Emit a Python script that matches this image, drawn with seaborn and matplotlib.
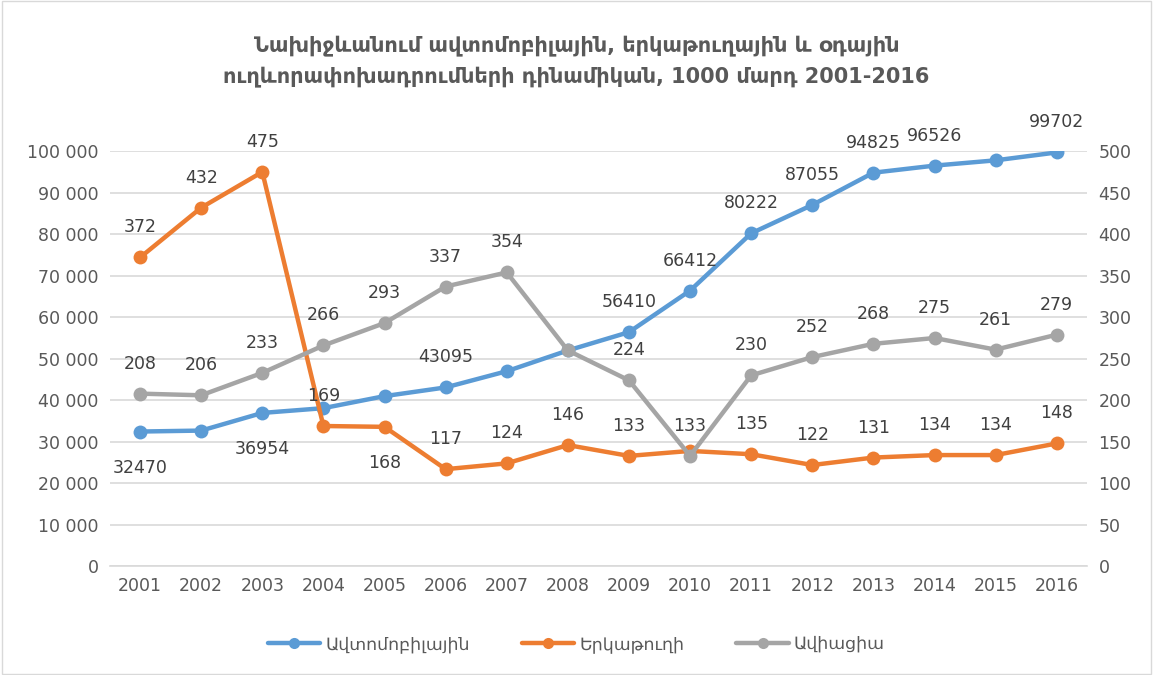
import numpy as np
import pandas as pd
import matplotlib
matplotlib.use("Agg")
import matplotlib.pyplot as plt
import seaborn as sns
from matplotlib.ticker import FuncFormatter, MultipleLocator

years = ["2001", "2002", "2003", "2004", "2005", "2006", "2007", "2008",
         "2009", "2010", "2011", "2012", "2013", "2014", "2015", "2016"]

# values (unlabelled points are estimates)
auto = [32470, 32700, 36954, 38100, 41000, 43095, 47000, 52000,
        56410, 66412, 80222, 87055, 94825, 96526, 97800, 99702]
rail = [372, 432, 475, 169, 168, 117, 124, 146, 133, 139, 135, 122, 131, 134, 134, 148]
air = [208, 206, 233, 266, 293, 337, 354, 260, 224, 133, 230, 252, 268, 275, 261, 279]

# data labels as shown (None = no label), and whether the label sits below
auto_lbl = [32470, None, 36954, None, None, 43095, None, None,
            56410, 66412, 80222, 87055, 94825, 96526, None, 99702]
auto_below = [True, False, True] + [False] * 13
rail_lbl = [372, 432, 475, 169, 168, 117, 124, 146, 133, None, 135, 122, 131, 134, 134, 148]
rail_below = [False] * 4 + [True] + [False] * 11
air_lbl = [208, 206, 233, 266, 293, 337, 354, None, 224, 133, 230, 252, 268, 275, 261, 279]

names = ["Ավտոմոբիլային", "Երկաթուղի", "Ավիացիա"]
colors = ["#5B9BD5", "#ED7D31", "#A5A5A5"]
title = ("Նախիջևանում ավտոմոբիլային, երկաթուղային և օդային\n"
         "ուղևորափոխադրումների դինամիկան, 1000 մարդ 2001-2016")

sns.set_theme(style="white")
plt.rcParams["font.family"] = ["DejaVu Sans"]

df = pd.DataFrame({"i": np.arange(len(years)), "auto": auto, "rail": rail, "air": air})

fig = plt.figure(figsize=(11.53, 6.75), dpi=100)
ax = fig.add_axes([0.095, 0.161, 0.848, 0.615])
ax2 = ax.twinx()

txt = "#595959"
lw, ms = 3.2, 10

sns.lineplot(data=df, x="i", y="auto", ax=ax, color=colors[0], linewidth=lw,
             marker="o", markersize=ms, markeredgewidth=0, label=names[0], legend=False)
sns.lineplot(data=df, x="i", y="rail", ax=ax2, color=colors[1], linewidth=lw,
             marker="o", markersize=ms, markeredgewidth=0, label=names[1], legend=False)
sns.lineplot(data=df, x="i", y="air", ax=ax2, color=colors[2], linewidth=lw,
             marker="o", markersize=ms, markeredgewidth=0, label=names[2], legend=False)

ax.set_ylim(0, 100000)
ax2.set_ylim(0, 500)
ax.set_xlim(-0.5, len(years) - 0.5)
ax.yaxis.set_major_locator(MultipleLocator(10000))
ax2.yaxis.set_major_locator(MultipleLocator(50))
ax.yaxis.set_major_formatter(FuncFormatter(lambda v, p: f"{int(v):,}".replace(",", " ")))
ax.set_xticks(range(len(years)))
ax.set_xticklabels(years)
ax.set_xlabel("")
ax.set_ylabel("")
ax2.set_ylabel("")

ax.grid(axis="y", color="#D9D9D9", linewidth=1.2)
ax.set_axisbelow(True)
for a in (ax, ax2):
    for s in a.spines.values():
        s.set_visible(False)
    a.tick_params(length=0, labelsize=12.5, labelcolor=txt, pad=8)
ax.spines["bottom"].set_visible(True)
ax.spines["bottom"].set_color("#D9D9D9")
ax.spines["bottom"].set_linewidth(1.2)


def put_labels(a, vals, lbls, below=None):
    for k, (v, l) in enumerate(zip(vals, lbls)):
        if l is None:
            continue
        dn = below[k] if below else False
        a.annotate(str(l), (k, v), xytext=(0, -36 if dn else 30),
                   textcoords="offset pixels", ha="center", va="center",
                   fontsize=12.5, color="#404040")


put_labels(ax, auto, auto_lbl, auto_below)
put_labels(ax2, rail, rail_lbl, rail_below)
put_labels(ax2, air, air_lbl)

fig.suptitle(title, y=0.948, fontsize=15, fontweight="bold", color=txt, linespacing=1.6)

h1, l1 = ax.get_legend_handles_labels()
h2, l2 = ax2.get_legend_handles_labels()
fig.legend(h1 + h2, l1 + l2, loc="center", bbox_to_anchor=(0.5, 0.046), ncol=3,
           frameon=False, fontsize=12.5, labelcolor=txt, handlelength=3,
           columnspacing=3, handletextpad=0.3, markerscale=0.8)

fig.patches.append(plt.Rectangle((0.002, 0.002), 0.996, 0.996, transform=fig.transFigure,
                                 fill=False, edgecolor="#D9D9D9", linewidth=1))

fig.savefig("out.png", dpi=100)
